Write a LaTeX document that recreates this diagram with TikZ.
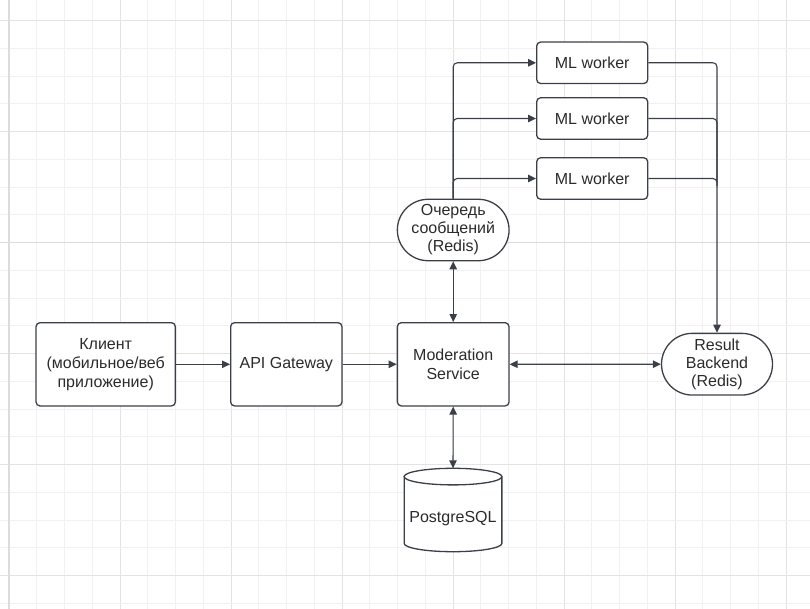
\documentclass[tikz,border=0pt]{standalone}
\usepackage{fontspec}
\setmainfont{Liberation Sans}
\usetikzlibrary{shapes.misc,arrows.meta}
\definecolor{ln}{HTML}{3B4048}
\definecolor{tx}{HTML}{2B2B2B}
\definecolor{gmin}{HTML}{F1F1F1}
\definecolor{gmaj}{HTML}{E3E3E3}
\definecolor{gax}{HTML}{DCDCDC}
\begin{document}
\begin{tikzpicture}[x=1pt,y=-1pt,
  gminor/.style={draw=gmin,line width=0.9pt},
  gmajor/.style={draw=gmaj,line width=0.9pt},
  gaxis/.style={draw=gax,line width=1.6pt},
  txt/.style={text=tx,align=center,font=\fontsize{16}{19}\selectfont,inner sep=0pt},
  box/.style={txt,draw=ln,line width=1.3pt,rounded corners=4pt,fill=white},
  pill/.style={txt,draw=ln,line width=1.3pt,rounded rectangle,fill=white,font=\fontsize{16}{18}\selectfont},
  cyl/.style={draw=ln,line width=1.3pt,fill=white},
  arr/.style={draw=ln,line width=1.1pt,-{Triangle[length=8pt,width=7.5pt]}},
  arrb/.style={draw=ln,line width=1.1pt,{Triangle[length=8pt,width=7.5pt]}-{Triangle[length=8pt,width=7.5pt]}}
]
\useasboundingbox (0,0) rectangle (810,609);
\fill[white] (0,0) rectangle (810,609);
% grid
\foreach \i in {0,...,28}{
  \pgfmathtruncatemacro\m{mod(\i,4)}
  \ifnum\m=0 \draw[gmajor] ({9+27.75*\i},0) -- ({9+27.75*\i},609);
  \else \draw[gminor] ({9+27.75*\i},0) -- ({9+27.75*\i},609); \fi
}
\foreach \j in {0,...,21}{
  \pgfmathtruncatemacro\m{mod(\j,4)}
  \ifnum\m=0 \draw[gmajor] (0,{20.5+27.75*\j}) -- (810,{20.5+27.75*\j});
  \else \draw[gminor] (0,{20.5+27.75*\j}) -- (810,{20.5+27.75*\j}); \fi
}
\draw[gaxis] (9,0) -- (9,609);
\draw[gaxis] (0,242.5) -- (810,242.5);

% nodes
\node[box,minimum width=139.3pt,minimum height=83.3pt] (k) at (105.7,364.3) {Клиент\\(мобильное/веб\\приложение)};
\node[box,minimum width=111.3pt,minimum height=83.3pt] (api) at (286.3,364.3) {API Gateway};
\node[box,minimum width=111.7pt,minimum height=83.3pt] (m) at (453.2,364.3) {Moderation\\Service};
\node[box,minimum width=111pt,minimum height=41.5pt] (w1) at (592.2,62.8) {ML worker};
\node[box,minimum width=111pt,minimum height=41.5pt] (w2) at (592.2,118.5) {ML worker};
\node[box,minimum width=111pt,minimum height=41.5pt] (w3) at (592.2,178.5) {ML worker};
\node[pill,minimum width=111.7pt,minimum height=61.4pt] (q) at (453.2,230) {Очередь\\сообщений\\(Redis)};
\node[pill,minimum width=111pt,minimum height=61.7pt] (r) at (717,364.2) {Result\\Backend\\(Redis)};

% database cylinder
\node[minimum width=97.7pt,minimum height=83.4pt,inner sep=0pt,outer sep=0pt] (db) at (453,510) {};
\draw[cyl] ([yshift=-8.3pt]db.north west) -- ([yshift=8.3pt]db.south west)
  arc[start angle=180,end angle=360,x radius=48.85pt,y radius=8.3pt]
  -- ([yshift=-8.3pt]db.north east);
\draw[cyl] ([yshift=-8.3pt]db.north) ellipse[x radius=48.85pt,y radius=8.3pt];
\node[txt] (dbl) at ([yshift=-9pt]db.center) {PostgreSQL};

% connectors
\draw[arr] (k.east) -- (api.west);
\draw[arr] (api.east) -- (m.west);
\draw[arrb] (q.south) -- (m.north);
\draw[arrb] (m.south) -- (db.north);
\draw[arrb] (m.east) -- (r.west);
\draw[arr,rounded corners=4pt] (q.north) |- (w1.west);
\draw[arr,rounded corners=4pt] (q.north) |- (w2.west);
\draw[arr,rounded corners=4pt] (q.north) |- (w3.west);
\draw[arr,rounded corners=4pt] (w1.east) -| (r.north);
\draw[draw=ln,line width=1.1pt,rounded corners=4pt] (w2.east) -| ([yshift=-4pt]w3.east -| r.north);
\draw[draw=ln,line width=1.1pt,rounded corners=4pt] (w3.east) -| ([yshift=-8pt]w3.east -| r.north);
\end{tikzpicture}
\end{document}
